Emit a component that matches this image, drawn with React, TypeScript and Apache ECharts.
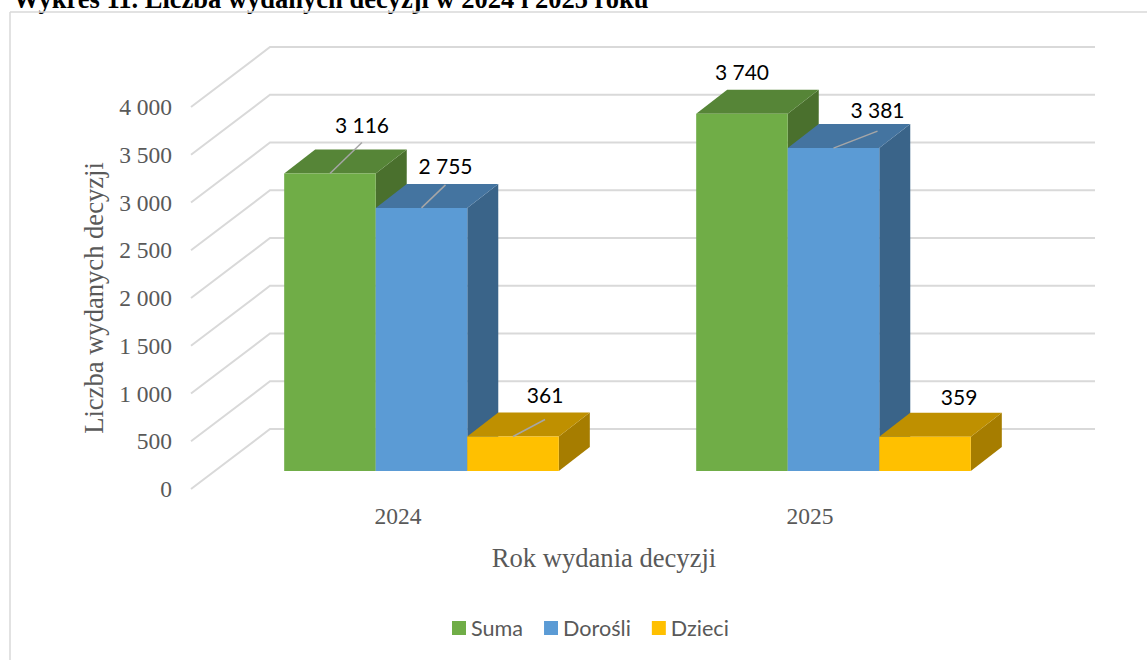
import React, { useEffect, useRef } from "react";
import * as echarts from "echarts";

const categories = ["2024", "2025"];
const suma = [3116, 3740];
const dorosli = [2755, 3381];
const dzieci = [361, 359];
const yTicks = [0, 500, 1000, 1500, 2000, 2500, 3000, 3500, 4000];

const TITLE = "Wykres 11. Liczba wydanych decyzji w 2024 i 2025 roku";
const SERIF = "'Liberation Serif', 'Times New Roman', serif";
const SANS = "Lato, sans-serif";

const WALL_DX = 79;
const WALL_DY = -60;
const BAR_DX = 23.5;
const BAR_DY = -18;
const DEPTH_DX = 31;
const DEPTH_DY = -24;
const BAR_SHARE = 0.2222;

const seriesStyles = [
  { name: "Suma", values: suma, front: "#70ad47", top: "#568537", side: "#4a702d" },
  { name: "Dorośli", values: dorosli, front: "#5b9bd5", top: "#4474a0", side: "#3a6489" },
  { name: "Dzieci", values: dzieci, front: "#ffc000", top: "#bf9000", side: "#a67d00" },
];

// offset of each data label from the top-front centre of its bar, with the optional leader end
const labelOffsets = [
  [{ dx: 32, dy: -49, leader: [32, -31] }, { dx: 0, dy: -42, leader: null }],
  [{ dx: 24, dy: -42, leader: [24, -23] }, { dx: 44, dy: -39, leader: [44, -17] }],
  [{ dx: 32, dy: -42, leader: [32, -17] }, { dx: 34, dy: -40, leader: null }],
];

const fmt = (v: number) => String(v).replace(/\B(?=(\d{3})+$)/g, " ");

function barRenderer(index: number) {
  const style = seriesStyles[index];
  return (params: any, api: any) => {
    const cat = api.value(0);
    const value = api.value(1);
    const top = api.coord([cat, value]);
    const base = api.coord([cat, 0]);
    const w = api.size([1, 0])[0] * BAR_SHARE;
    const x0 = top[0] + BAR_DX + (index - 1.5) * w;
    const x1 = x0 + w;
    const yT = top[1] + BAR_DY;
    const yB = base[1] + BAR_DY;
    const off = labelOffsets[index][cat];
    const cx = x0 + w / 2;
    const children: any[] = [
      {
        type: "polygon",
        shape: { points: [[x1, yB], [x1 + DEPTH_DX, yB + DEPTH_DY], [x1 + DEPTH_DX, yT + DEPTH_DY], [x1, yT]] },
        style: { fill: style.side },
      },
      {
        type: "polygon",
        shape: { points: [[x0, yT], [x0 + DEPTH_DX, yT + DEPTH_DY], [x1 + DEPTH_DX, yT + DEPTH_DY], [x1, yT]] },
        style: { fill: style.top },
      },
      {
        type: "rect",
        shape: { x: x0, y: yT, width: w, height: yB - yT },
        style: { fill: style.front },
      },
    ];
    if (off.leader) {
      children.push({
        type: "line",
        shape: { x1: cx, y1: yT, x2: cx + off.leader[0], y2: yT + off.leader[1] },
        style: { stroke: "#a6a6a6", lineWidth: 1.5 },
      });
    }
    children.push({
      type: "text",
      style: {
        x: cx + off.dx,
        y: yT + off.dy,
        text: fmt(value),
        fill: "#000000",
        fontFamily: SANS,
        fontSize: 21,
        align: "center",
        verticalAlign: "middle",
      },
    });
    return { type: "group", children };
  };
}

function wallRenderer(params: any, api: any) {
  const p = api.coord([0, api.value(1)]);
  const cs = params.coordSys;
  return {
    type: "polyline",
    shape: {
      points: [
        [cs.x - 1, p[1]],
        [cs.x - 1 + WALL_DX, p[1] + WALL_DY],
        [cs.x + cs.width + WALL_DX, p[1] + WALL_DY],
      ],
    },
    style: { stroke: "#d9d9d9", lineWidth: 2, fill: "none" },
    silent: true,
  };
}

export default function App() {
  const ref = useRef<HTMLDivElement>(null);
  useEffect(() => {
    const chart = echarts.init(ref.current!, undefined, { renderer: "svg" });
    chart.setOption({
      animation: false,
      backgroundColor: "#ffffff",
      grid: { left: 192, top: 107, width: 824, height: 382, containLabel: false },
      xAxis: {
        type: "category",
        data: categories,
        axisLine: { show: false },
        axisTick: { show: false },
        splitLine: { show: false },
        axisLabel: { color: "#595959", fontFamily: SERIF, fontSize: 23.5, margin: 15 },
        name: "Rok wydania decyzji",
        nameLocation: "middle",
        nameGap: 55,
        nameTextStyle: { color: "#595959", fontFamily: SERIF, fontSize: 26.6 },
      },
      yAxis: {
        type: "value",
        min: 0,
        max: 4000,
        interval: 500,
        axisLine: { show: false },
        axisTick: { show: false },
        splitLine: { show: false },
        axisLabel: {
          color: "#595959",
          fontFamily: SERIF,
          fontSize: 23.5,
          margin: 20,
          formatter: (v: number) => fmt(v),
        },
        name: "Liczba wydanych decyzji",
        nameLocation: "middle",
        nameGap: 85,
        nameTextStyle: { color: "#595959", fontFamily: SERIF, fontSize: 26.6 },
      },
      legend: {
        left: 447,
        top: 612,
        itemWidth: 14,
        itemHeight: 14,
        itemGap: 21,
        icon: "rect",
        textStyle: { color: "#595959", fontFamily: SANS, fontSize: 21.6, padding: [0, 0, 0, 0] },
        data: seriesStyles.map((s) => s.name),
      },
      graphic: [
        {
          type: "text",
          left: 13,
          top: -15,
          style: { text: TITLE, fill: "#000000", fontFamily: SERIF, fontWeight: "bold", fontSize: 26.5 },
        },
        { type: "line", shape: { x1: 10, y1: 12, x2: 1147, y2: 12 }, style: { stroke: "#d9d9d9", lineWidth: 1.5 } },
        { type: "line", shape: { x1: 10, y1: 12, x2: 10, y2: 660 }, style: { stroke: "#d9d9d9", lineWidth: 1.5 } },
      ],
      series: [
        {
          type: "custom",
          name: "grid",
          renderItem: wallRenderer,
          data: yTicks.map((t) => [0, t]),
          encode: { x: 0, y: 1 },
          silent: true,
          z: 1,
        },
        ...seriesStyles.map((s, i) => ({
          type: "custom",
          name: s.name,
          renderItem: barRenderer(i),
          data: s.values.map((v, c) => [c, v]),
          encode: { x: 0, y: 1 },
          itemStyle: { color: s.front },
          z: 2 + i,
        })),
      ],
    });
    return () => chart.dispose();
  }, []);
  return (
    <div
      ref={ref}
      style={{ position: "absolute", left: 0, top: 0, width: 1147, height: 660, overflow: "hidden" }}
    />
  );
}
